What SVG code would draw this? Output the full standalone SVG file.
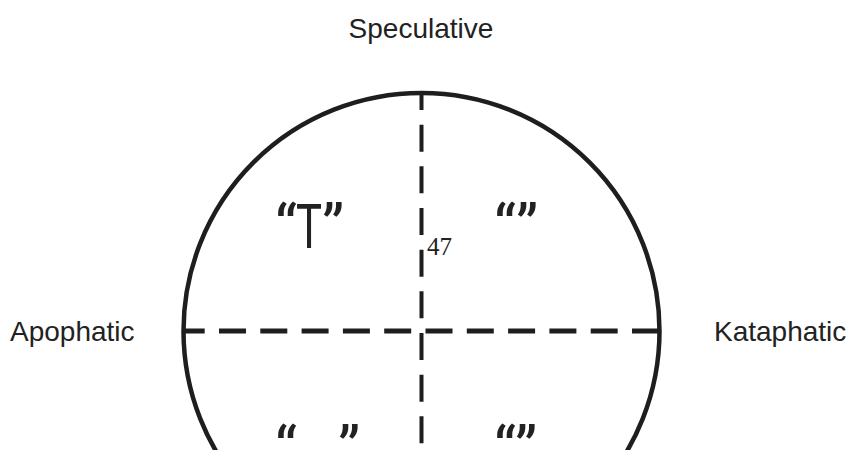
<svg xmlns="http://www.w3.org/2000/svg" width="854" height="450" viewBox="0 0 854 450">
<style>
.lbl{font-family:"Liberation Sans",Arial,sans-serif;font-size:28px;fill:#222}
.q{font-family:Roboto,"Liberation Sans",Arial,sans-serif;font-size:62px;fill:#222}
.num{font-family:"Liberation Serif","Times New Roman",serif;font-size:25px;fill:#222}
.dash{stroke:#1e1e1e;fill:none}
</style>
<rect width="854" height="450" fill="#fff"/>
<g id="circle">
<circle cx="421.5" cy="331" r="238" fill="none" stroke="#1e1e1e" stroke-width="4.5"/>
</g>
<g id="connectors">
<line class="dash" x1="421.5" y1="93" x2="421.5" y2="460" stroke-width="4" stroke-dasharray="27 14.67" stroke-dashoffset="10"/>
<line class="dash" x1="183" y1="331" x2="659" y2="331" stroke-width="5" stroke-dasharray="27 14.3" stroke-dashoffset="5.3"/>
</g>
<g id="speculative"><text class="lbl" x="421" y="38" text-anchor="middle">Speculative</text></g>
<g id="apophatic"><text class="lbl" x="10" y="341">Apophatic</text></g>
<g id="kataphatic"><text class="lbl" x="714" y="341">Kataphatic</text></g>
<g id="q-top-left"><text class="q" y="248"><tspan x="275">“</tspan><tspan x="296" textLength="26" lengthAdjust="spacingAndGlyphs">T</tspan><tspan x="322">”</tspan></text></g>
<g id="num47"><text class="num" x="427" y="255">47</text></g>
<g id="q-top-right"><text class="q" y="248"><tspan x="494">“</tspan><tspan x="516">”</tspan></text></g>
<g id="q-bottom-left"><text class="q" y="470"><tspan x="275">“</tspan><tspan x="338">”</tspan></text></g>
<g id="q-bottom-right"><text class="q" y="470"><tspan x="494">“</tspan><tspan x="515">”</tspan></text></g>
</svg>
